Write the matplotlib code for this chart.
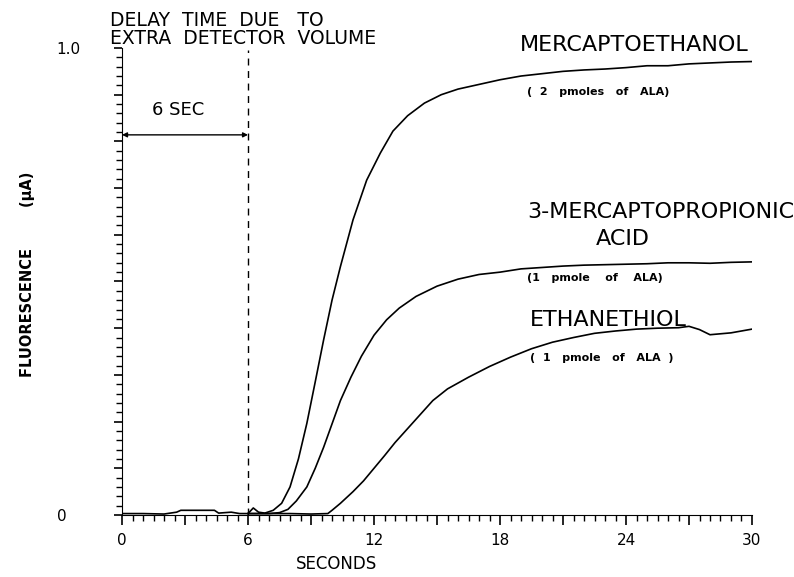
import matplotlib.pyplot as plt
from matplotlib.ticker import MultipleLocator, FixedLocator

# --- data (seconds, fluorescence in uA) ---
merc_x = [0, 1, 2, 2.6, 2.8, 4.4, 4.6, 5.2, 5.6, 6.0, 6.25, 6.5, 6.8, 7.2, 7.6, 8.0,
          8.4, 8.8, 9.2, 9.6, 10.0, 10.4, 11.0, 11.65, 12.3, 12.9, 13.6, 14.4, 15.2,
          16.0, 17.0, 18.0, 19.0, 20.0, 21.0, 22.0, 23.0, 24.0, 25.0, 26.0, 27.0,
          28.0, 29.0, 30.0]
merc_y = [0.003, 0.003, 0.002, 0.006, 0.01, 0.01, 0.004, 0.006, 0.003, 0.003, 0.015,
          0.006, 0.004, 0.01, 0.025, 0.06, 0.12, 0.196, 0.285, 0.375, 0.46, 0.532,
          0.632, 0.717, 0.775, 0.822, 0.855, 0.882, 0.9, 0.912, 0.922, 0.932, 0.94,
          0.945, 0.95, 0.953, 0.955, 0.958, 0.962, 0.962, 0.966, 0.968, 0.97, 0.971]

prop_x = [6.0, 7.0, 7.5, 7.9, 8.3, 8.8, 9.2, 9.6, 10.0, 10.4, 10.9, 11.4, 12.0, 12.6,
          13.2, 14.0, 15.0, 16.0, 17.0, 18.0, 19.0, 20.0, 21.0, 22.0, 23.0, 24.0,
          25.0, 26.0, 27.0, 28.0, 29.0, 30.0]
prop_y = [0.003, 0.003, 0.005, 0.012, 0.03, 0.06, 0.1, 0.145, 0.195, 0.245, 0.295,
          0.34, 0.385, 0.418, 0.443, 0.468, 0.49, 0.505, 0.515, 0.52, 0.527, 0.53,
          0.533, 0.535, 0.536, 0.537, 0.538, 0.54, 0.54, 0.539, 0.541, 0.542]

eth_x = [6.0, 8.0, 9.0, 9.8, 10.0, 10.4, 11.0, 11.5, 12.0, 12.5, 13.0, 13.5, 14.0,
         14.8, 15.5, 16.5, 17.5, 18.5, 19.5, 20.5, 21.5, 22.5, 23.5, 24.5, 25.5,
         26.5, 27.0, 27.5, 28.0, 29.0, 30.0]
eth_y = [0.003, 0.003, 0.002, 0.003, 0.01, 0.025, 0.05, 0.073, 0.1, 0.127, 0.155,
         0.18, 0.205, 0.245, 0.27, 0.295, 0.318, 0.338, 0.356, 0.37, 0.38, 0.389,
         0.394, 0.398, 0.4, 0.401, 0.404, 0.397, 0.386, 0.39, 0.398]

x_major = [0, 3, 6, 9, 12, 15, 18, 21, 24, 27, 30]
x_labels = ["0", "", "6", "", "12", "", "18", "", "24", "", "30"]
y_major = [0.0, 0.1, 0.2, 0.3, 0.4, 0.5, 0.6, 0.7, 0.8, 0.9, 1.0]
y_labels = ["0", "", "", "", "", "", "", "", "", "", "1.0"]
delay = 6

fig = plt.figure(figsize=(7.94, 5.77), dpi=100)
ax = fig.add_axes([0.1537, 0.1075, 0.7934, 0.8093])

for xs, ys in [(merc_x, merc_y), (prop_x, prop_y), (eth_x, eth_y)]:
    ax.plot(xs, ys, color="black", linewidth=1.2)

# delay marker
ax.plot([delay, delay], [0, 0.995], color="black", linestyle=(0, (5, 4)), linewidth=1.0)
ax.annotate("", xy=(0, 0.814), xytext=(delay, 0.814),
            arrowprops=dict(arrowstyle="<|-|>", color="black", linewidth=1.0,
                            mutation_scale=7, shrinkA=0, shrinkB=0))
ax.text(2.67, 0.867, "6 SEC", fontsize=13, ha="center", va="center")
ax.text(-0.57, 1.058, "DELAY  TIME  DUE   TO", fontsize=13.5, ha="left", va="center",
        clip_on=False)
ax.text(-0.57, 1.021, "EXTRA  DETECTOR  VOLUME", fontsize=13.5, ha="left", va="center",
        clip_on=False)

# curve labels
ax.text(18.95, 1.006, "MERCAPTOETHANOL", fontsize=16, ha="left", va="center", clip_on=False)
ax.text(19.3, 0.906, "(  2   pmoles   of   ALA)", fontsize=8, fontweight="bold",
        ha="left", va="center")
ax.text(19.3, 0.649, "3-MERCAPTOPROPIONIC", fontsize=16, ha="left", va="center",
        clip_on=False)
ax.text(23.86, 0.591, "ACID", fontsize=16, ha="center", va="center")
ax.text(19.3, 0.508, "(1   pmole    of    ALA)", fontsize=8, fontweight="bold",
        ha="left", va="center")
ax.text(19.43, 0.418, "ETHANETHIOL", fontsize=16, ha="left", va="center")
ax.text(19.43, 0.336, "(  1   pmole   of   ALA  )", fontsize=8, fontweight="bold",
        ha="left", va="center")

ax.set_xlim(0, 30)
ax.set_ylim(0, 1.0)
ax.spines["top"].set_visible(False)
ax.spines["right"].set_visible(False)

ax.xaxis.set_major_locator(FixedLocator(x_major))
ax.set_xticklabels(x_labels)
ax.xaxis.set_minor_locator(MultipleLocator(0.5))
ax.yaxis.set_major_locator(FixedLocator(y_major))
ax.set_yticklabels(y_labels)
ax.yaxis.set_minor_locator(MultipleLocator(0.02))
ax.tick_params(axis="x", which="major", length=7, width=1.2, labelsize=11, pad=6)
ax.tick_params(axis="x", which="minor", length=4, width=1.0)
ax.tick_params(axis="y", which="major", length=6, width=1.2, labelsize=11, pad=41)
ax.tick_params(axis="y", which="minor", length=4, width=1.0)
for lab in ax.get_yticklabels():
    lab.set_horizontalalignment("left")

ax.set_xlabel("SECONDS", fontsize=12)
ax.xaxis.set_label_coords(0.341, -0.085)
ax.set_ylabel("FLUORESCENCE        (\u03bcA)", fontsize=10.5, fontweight="bold")
ax.yaxis.set_label_coords(-0.138, 0.515)

fig.savefig("out.png", dpi=100)
